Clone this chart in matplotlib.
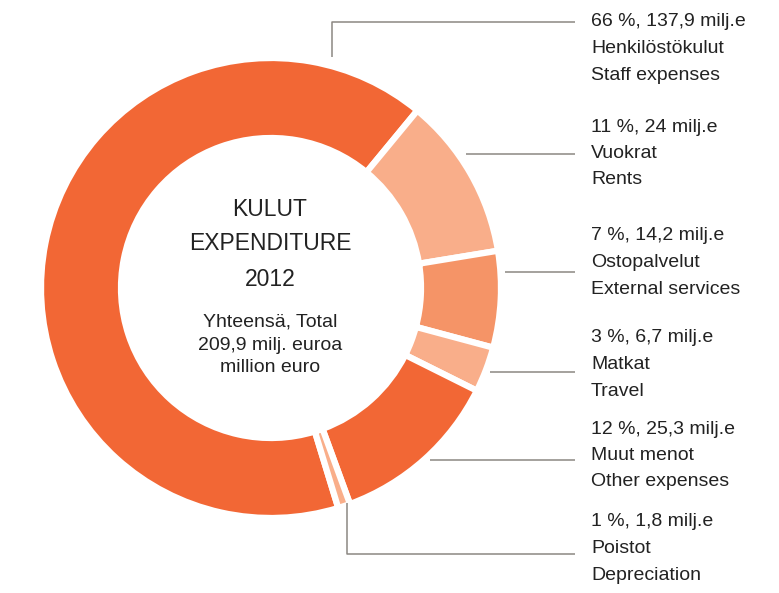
import numpy as np
import matplotlib.pyplot as plt
from matplotlib import font_manager

# data
names_fi = ['Henkilöstökulut', 'Vuokrat', 'Ostopalvelut', 'Matkat', 'Muut menot', 'Poistot']
names_en = ['Staff expenses', 'Rents', 'External services', 'Travel', 'Other expenses', 'Depreciation']
values = [137.9, 24, 14.2, 6.7, 25.3, 1.8]
colors = ['#F26735', '#F9AE8A', '#F59467', '#F9AE8A', '#F26735', '#F9AE8A']
total = 209.9
year = 2012

W, H = 779, 593
fams = [f.name for f in font_manager.fontManager.ttflist]
narrow = 'Liberation Sans Narrow' if 'Liberation Sans Narrow' in fams else 'Liberation Sans'
plt.rcParams['font.family'] = [narrow, 'DejaVu Sans']


def fi_num(x):
    return f'{x:g}'.replace('.', ',')


fig = plt.figure(figsize=(W / 100, H / 100), dpi=100)
ax = fig.add_axes([0, 0, 1, 1])

cx, cy = 271, H - 288
ax.pie(values, colors=colors, startangle=287, counterclock=False,
       center=(cx, cy), radius=230,
       wedgeprops=dict(width=80, edgecolor='white', linewidth=4.5))
ax.set_xlim(0, W)
ax.set_ylim(0, H)
ax.set_aspect('equal')
ax.axis('off')

# centre text
tc = '#222222'
ax.text(270, H - 209, 'KULUT', ha='center', va='center', fontsize=16.5, color=tc)
ax.text(270, H - 244, 'EXPENDITURE', ha='center', va='center', fontsize=16.5, color=tc)
ax.text(270, H - 279, str(year), ha='center', va='center', fontsize=16.5, color=tc)
ax.text(270, H - 322, 'Yhteensä, Total', ha='center', va='center', fontsize=14, color=tc)
ax.text(270, H - 345, f'{fi_num(total)} milj. euroa', ha='center', va='center',
        fontsize=14, color=tc)
ax.text(270, H - 368, 'million euro', ha='center', va='center', fontsize=14, color=tc)

# leader lines (pixel paths) and label tops
leaders = [
    [(332, 57), (332, 22), (575, 22)],
    [(466, 154), (575, 154)],
    [(505, 272), (575, 272)],
    [(490, 372), (575, 372)],
    [(430, 460), (575, 460)],
    [(347, 503), (347, 554), (575, 554)],
]
label_y = [22, 127, 236, 338, 429, 522]

for i, v in enumerate(values):
    pts = np.array(leaders[i], dtype=float)
    ax.plot(pts[:, 0], H - pts[:, 1], color='#8C8782', linewidth=1.1, solid_capstyle='butt')
    pct = round(v / total * 100)
    lines = [f'{pct} %, {fi_num(v)} milj.e', names_fi[i], names_en[i]]
    for j, s in enumerate(lines):
        ax.text(591, H - (label_y[i] + 26.5 * j), s, ha='left', va='center',
                fontsize=14, color=tc)

fig.savefig('out.png', dpi=100)
